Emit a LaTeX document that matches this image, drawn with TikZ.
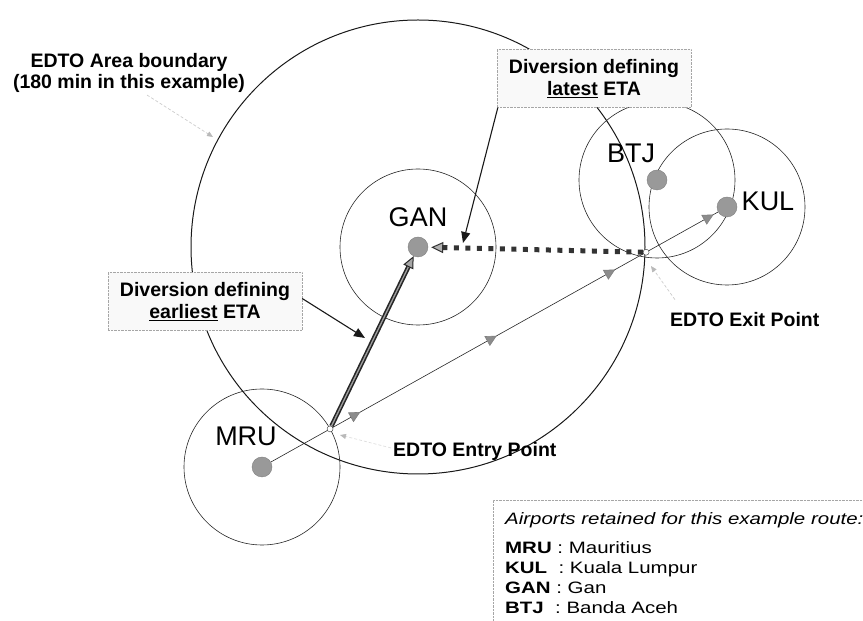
\documentclass[tikz,border=0pt]{standalone}
\usepackage{fontspec}
\setmainfont{Liberation Sans}
\newfontfamily\legendfont[FakeStretch=1.24]{Liberation Sans}
\usetikzlibrary{arrows.meta,positioning,calc,decorations.markings,backgrounds}
\tikzset{
    airport/.style={
           circle,
           fill=gray!80,
           draw=gray,
           minimum size=20pt,
           inner sep=0pt
           },
    code/.style={
           font=\fontsize{27}{30}\selectfont
           },
    fix/.style={
           circle,
           draw=black!80, thin,
           fill=white,
           minimum size=6pt,
           inner sep=0pt
           },
    note/.style={
           align=center,
           inner sep=2pt,
           font=\bfseries\fontsize{19.5}{21.5}\selectfont
           },
    etabox/.style={
           draw=gray!70, densely dotted,
           fill=gray!5,
           minimum width=194pt,
           minimum height=58pt,
           align=center,
           font=\bfseries\fontsize{19.5}{22.5}\selectfont
           },
    boundary/.style={
           draw=black!90, line width=1pt
           },
    reach/.style={
           draw=black!85, line width=0.6pt
           },
    route/.style={
           draw=black!85, line width=0.6pt,
           postaction={decorate},
           decoration={markings,
               mark=at position 0.2 with {\arrow{Triangle[length=11pt,width=11pt,fill=gray!90,color=gray]}},
               mark=at position 0.505 with {\arrow{Triangle[length=11pt,width=11pt,fill=gray!90,color=gray]}},
               mark=at position 0.77 with {\arrow{Triangle[length=11pt,width=11pt,fill=gray!90,color=gray]}},
               mark=at position 0.99 with {\arrow{Triangle[length=11pt,width=11pt,fill=gray!90,color=gray]}}}
           },
    earliest/.style={
           draw=black!85, line width=1.6pt,
           double=gray!75, double distance=1.3pt,
           -{Triangle[length=12pt,width=11pt,fill=gray!70,line width=1pt]}
           },
    latest/.style={
           draw=black!80, line width=5pt,
           dash pattern=on 5pt off 6.5pt,
           shorten >=3pt,
           -{Triangle[length=12pt,width=11pt,fill=gray!60,line width=1pt]}
           },
    pointer/.style={
           ->, draw=black!90, line width=1.1pt
           },
    hint/.style={
           draw=gray!40, densely dashed, line width=0.7pt,
           -{Triangle[length=6pt,width=5pt,fill=gray!55,color=gray!55]}
           },
    legendtext/.style={
           align=left,
           inner sep=0pt,
           font=\legendfont\fontsize{16.5}{20}\selectfont
           }
}

\begin{document}
\begin{tikzpicture}[x=1pt, y=1pt, >={Triangle[length=11pt,width=9pt]}, node distance=30pt, on grid, auto]
   \useasboundingbox (0,0) rectangle (863,621);
   % airports
   \node[airport] (GAN) at (418,374) {};
   \node[airport] (MRU) at (262,154) {};
   \node[airport] (BTJ) at (657,441) {};
   \node[airport] (KUL) at (727,414) {};
   \node[code] (ganlbl) [above=of GAN] {GAN};
   \node[code] (mrulbl) [above left=31pt and 16pt of MRU] {MRU};
   \node[code] (btjlbl) [above left=27pt and 26pt of BTJ] {BTJ};
   \node[code] (kullbl) [above right=6pt and 41pt of KUL] {KUL};

   % entry and exit points
   \node[fix] (entry) at ($(MRU.center)!78pt!(KUL.center)$) {};
   \node[fix] (exit) at ($(MRU.center)!0.826!(KUL.center)$) {};

   % EDTO area, 60 min circles and the route
   \begin{scope}[on background layer]
       \draw[boundary] (GAN.center) circle[radius=227pt];
       \foreach \ap in {GAN,MRU,BTJ,KUL}
           \draw[reach] (\ap.center) circle[radius=78pt];
       \draw[route] (MRU) -- (KUL);
   \end{scope}

   % diversions
   \draw[earliest] (entry) -- (GAN);
   \draw[latest] (exit) -- (GAN);

   % texts
   \node[note] (arealbl) at (129,548) {EDTO Area boundary\\(180 min in this example)};
   \node[note, anchor=base west] (exitlbl) at (668,294) {EDTO Exit Point};
   \node[note, anchor=base west] (entrylbl) at (391,164) {EDTO Entry Point};
   \node[etabox] (latestbox) at (594,542.5) {Diversion defining\\\underline{latest} ETA};
   \node[etabox] (earliestbox) at (205,319.5) {Diversion defining\\\underline{earliest} ETA};

   \coordinate (latesttip) at (463,378);
   \coordinate (earliesttip) at (365,283);
   \draw[pointer] ([xshift=1pt]latestbox.south west) -- (latesttip);
   \draw[pointer] ([yshift=3pt]earliestbox.east) -- (earliesttip);

   \coordinate (areatip) at (213,484);
   \coordinate (exittip) at (651,355);
   \coordinate (entrytip) at (340,186);
   \draw[hint] ([xshift=18pt]arealbl.south) -- (areatip);
   \draw[hint] ([xshift=7pt,yshift=11pt]exitlbl.north west) -- (exittip);
   \draw[hint, draw=gray!25] ([yshift=4pt]entrylbl.west) -- (entrytip);

   % legend
   \draw[draw=gray!70, densely dotted, fill=white] (493,-5) rectangle (870,121);
   \node[legendtext, anchor=north west] (legend) at (505,108.5)
       {\textit{Airports retained for this example route:}\\[9pt]
        \textbf{MRU} : Mauritius\\
        \textbf{KUL}\ \ : Kuala Lumpur\\
        \textbf{GAN} : Gan\\
        \textbf{BTJ}\ \ : Banda Aceh};
\end{tikzpicture}
\end{document}
